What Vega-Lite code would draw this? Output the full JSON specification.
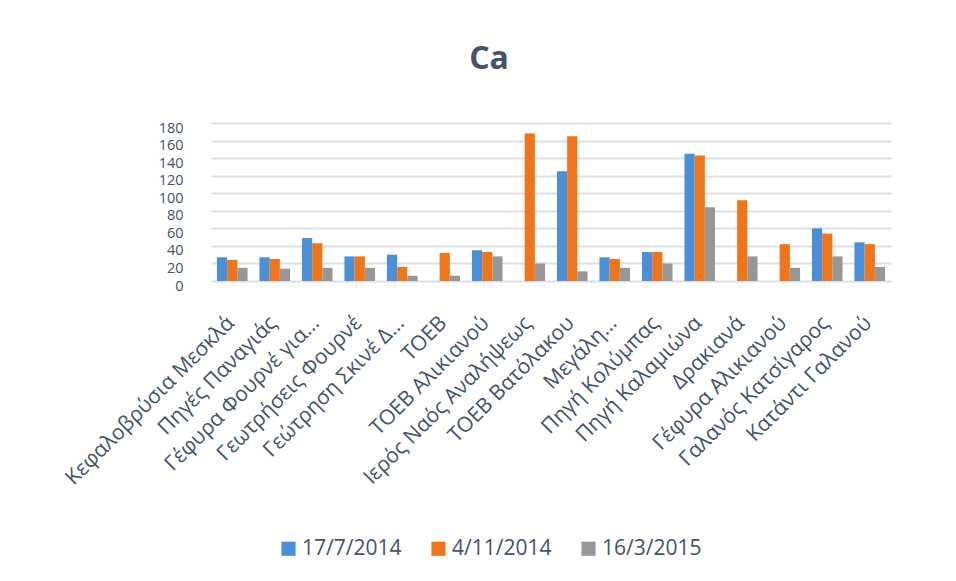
{
  "$schema": "https://vega.github.io/schema/vega-lite/v6.json",
  "width": 680,
  "height": 158,
  "autosize": {"type": "none"},
  "padding": {"left": 211, "top": 123, "right": 65, "bottom": 300},
  "background": "white",
  "title": {"text": "Ca", "fontSize": 32, "fontWeight": "bold", "color": "#44546A", "font": "Open Sans", "anchor": "middle", "dx": -62, "offset": 44},
  "data": {"values": [
    {"site": "Κεφαλοβρύσια Μεσκλά", "date": "17/7/2014", "value": 27},
    {"site": "Κεφαλοβρύσια Μεσκλά", "date": "4/11/2014", "value": 24},
    {"site": "Κεφαλοβρύσια Μεσκλά", "date": "16/3/2015", "value": 15},
    {"site": "Πηγές Παναγιάς", "date": "17/7/2014", "value": 27},
    {"site": "Πηγές Παναγιάς", "date": "4/11/2014", "value": 25},
    {"site": "Πηγές Παναγιάς", "date": "16/3/2015", "value": 14},
    {"site": "Γέφυρα Φουρνέ για…", "date": "17/7/2014", "value": 49},
    {"site": "Γέφυρα Φουρνέ για…", "date": "4/11/2014", "value": 43},
    {"site": "Γέφυρα Φουρνέ για…", "date": "16/3/2015", "value": 15},
    {"site": "Γεωτρήσεις Φουρνέ", "date": "17/7/2014", "value": 28},
    {"site": "Γεωτρήσεις Φουρνέ", "date": "4/11/2014", "value": 28},
    {"site": "Γεωτρήσεις Φουρνέ", "date": "16/3/2015", "value": 15},
    {"site": "Γεώτρηση Σκινέ Δ…", "date": "17/7/2014", "value": 30},
    {"site": "Γεώτρηση Σκινέ Δ…", "date": "4/11/2014", "value": 16},
    {"site": "Γεώτρηση Σκινέ Δ…", "date": "16/3/2015", "value": 6},
    {"site": "TOEB", "date": "4/11/2014", "value": 32},
    {"site": "TOEB", "date": "16/3/2015", "value": 6},
    {"site": "TOEB Αλικιανού", "date": "17/7/2014", "value": 35},
    {"site": "TOEB Αλικιανού", "date": "4/11/2014", "value": 33},
    {"site": "TOEB Αλικιανού", "date": "16/3/2015", "value": 28},
    {"site": "Ιερός Ναός Αναλήψεως", "date": "4/11/2014", "value": 168},
    {"site": "Ιερός Ναός Αναλήψεως", "date": "16/3/2015", "value": 20},
    {"site": "TOEB Βατόλακου", "date": "17/7/2014", "value": 125},
    {"site": "TOEB Βατόλακου", "date": "4/11/2014", "value": 165},
    {"site": "TOEB Βατόλακου", "date": "16/3/2015", "value": 11},
    {"site": "Μεγάλη…", "date": "17/7/2014", "value": 27},
    {"site": "Μεγάλη…", "date": "4/11/2014", "value": 25},
    {"site": "Μεγάλη…", "date": "16/3/2015", "value": 15},
    {"site": "Πηγή Κολύμπας", "date": "17/7/2014", "value": 33},
    {"site": "Πηγή Κολύμπας", "date": "4/11/2014", "value": 33},
    {"site": "Πηγή Κολύμπας", "date": "16/3/2015", "value": 20},
    {"site": "Πηγή Καλαμιώνα", "date": "17/7/2014", "value": 145},
    {"site": "Πηγή Καλαμιώνα", "date": "4/11/2014", "value": 143},
    {"site": "Πηγή Καλαμιώνα", "date": "16/3/2015", "value": 84},
    {"site": "Δρακιανά", "date": "4/11/2014", "value": 92},
    {"site": "Δρακιανά", "date": "16/3/2015", "value": 28},
    {"site": "Γέφυρα Αλικιανού", "date": "4/11/2014", "value": 42},
    {"site": "Γέφυρα Αλικιανού", "date": "16/3/2015", "value": 15},
    {"site": "Γαλανός Κατσίγαρος", "date": "17/7/2014", "value": 60},
    {"site": "Γαλανός Κατσίγαρος", "date": "4/11/2014", "value": 54},
    {"site": "Γαλανός Κατσίγαρος", "date": "16/3/2015", "value": 28},
    {"site": "Κατάντι Γαλανού", "date": "17/7/2014", "value": 44},
    {"site": "Κατάντι Γαλανού", "date": "4/11/2014", "value": 42},
    {"site": "Κατάντι Γαλανού", "date": "16/3/2015", "value": 16}
  ]},
  "mark": {"type": "bar", "stroke": null},
  "encoding": {
    "x": {
      "field": "site", "type": "nominal", "sort": null,
      "scale": {"paddingInner": 0.28, "paddingOuter": 0.14},
      "axis": {"title": null, "labelAngle": -45, "labelFontSize": 21, "labelFont": "Open Sans", "labelColor": "#44546A", "ticks": false, "domain": false, "labelPadding": 31, "labelOffset": -9, "labelLimit": 400, "labelOverlap": false}
    },
    "xOffset": {"field": "date", "type": "nominal", "sort": ["17/7/2014", "4/11/2014", "16/3/2015"]},
    "y": {
      "field": "value", "type": "quantitative",
      "scale": {"domain": [0, 180], "nice": false},
      "axis": {"title": null, "values": [0, 20, 40, 60, 80, 100, 120, 140, 160, 180], "labelFontSize": 14.5, "labelFont": "Open Sans", "labelColor": "#44546A", "ticks": false, "domain": false, "labelPadding": 28, "labelOffset": 5, "labelOverlap": false, "labelBound": false, "gridColor": "#DCDFE6", "gridWidth": 2}
    },
    "color": {
      "field": "date", "type": "nominal",
      "sort": ["17/7/2014", "4/11/2014", "16/3/2015"],
      "scale": {"domain": ["17/7/2014", "4/11/2014", "16/3/2015"], "range": ["#4A8FD8", "#F07519", "#979797"]},
      "legend": {"title": null, "orient": "none", "direction": "horizontal", "legendX": 67, "legendY": 415, "symbolType": "square", "symbolSize": 200, "symbolStrokeWidth": 0, "labelFontSize": 21, "labelFont": "Open Sans", "labelColor": "#44546A", "columnPadding": 26, "labelOffset": 3}
    }
  },
  "config": {"view": {"stroke": null}}
}
